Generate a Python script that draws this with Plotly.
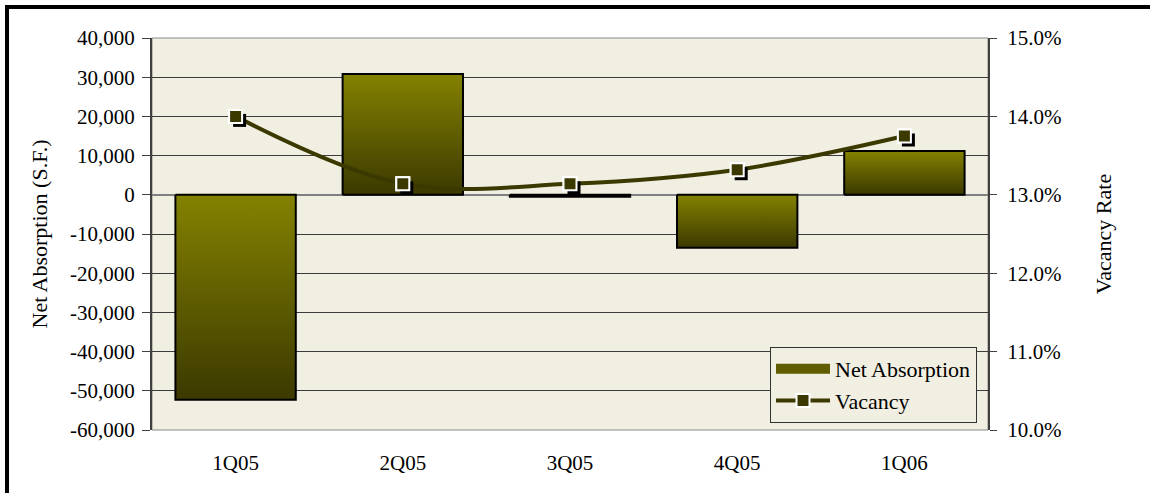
import plotly.graph_objects as go

quarters = ["1Q05", "2Q05", "3Q05", "4Q05", "1Q06"]
net_absorption = [-52300, 30800, -500, -13500, 11200]
vacancy_rate = [0.1400, 0.1314, 0.1314, 0.1332, 0.1375]

left_ticks = list(range(-60000, 40001, 10000))
right_ticks = [0.10, 0.11, 0.12, 0.13, 0.14, 0.15]

# layout constants (pixels)
W, H = 1150, 493
ML, MR, MT, MB = 152, 162, 38, 63
PW, PH = W - ML - MR, H - MT - MB
BAR_W = 0.72
SHADOW_PX = 4

FONT = "Liberation Serif"
BG = "#F0EFE1"
DARK = "#3b3900"
OLIVE = "#848200"

x_idx = list(range(len(quarters)))
fig = go.Figure()

# bars as gradient-filled rectangles
for i, v in enumerate(net_absorption):
    x0, x1 = x_idx[i] - BAR_W / 2, x_idx[i] + BAR_W / 2
    fig.add_trace(go.Scatter(
        x=[x0, x1, x1, x0, x0], y=[0, 0, v, v, 0],
        mode="lines", fill="toself",
        fillgradient=dict(type="vertical", colorscale=[[0, DARK], [1, OLIVE]]),
        line=dict(color="#000000", width=2),
        name="Net Absorption", legendgroup="na", showlegend=False,
        hoverinfo="skip", xaxis="x", yaxis="y",
    ))
# legend swatch for the bars
fig.add_trace(go.Scatter(
    x=[None], y=[None], mode="lines", name="Net Absorption", legendgroup="na",
    line=dict(color="#5f5d00", width=11), xaxis="x", yaxis="y",
))

# vacancy line
fig.add_trace(go.Scatter(
    x=x_idx, y=vacancy_rate, mode="lines+markers", name="Vacancy",
    line=dict(color=DARK, width=4, shape="spline", smoothing=1.0),
    marker=dict(symbol="square", size=13, color=DARK, line=dict(color="white", width=2)),
    xaxis="x", yaxis="y2",
))
# marker shadows
fig.add_trace(go.Scatter(
    x=x_idx, y=vacancy_rate, mode="markers", showlegend=False, hoverinfo="skip",
    marker=dict(symbol="square", size=13, color="#000000"),
    xaxis="x2", yaxis="y3",
))
# markers on top
fig.add_trace(go.Scatter(
    x=x_idx, y=vacancy_rate, mode="markers", showlegend=False,
    marker=dict(symbol="square", size=13, color=DARK, line=dict(color="white", width=2)),
    xaxis="x4", yaxis="y4",
))

xr = [-0.5, len(quarters) - 0.5]
dx = SHADOW_PX * (xr[1] - xr[0]) / PW
yr2 = [0.10, 0.15]
dy = SHADOW_PX * (yr2[1] - yr2[0]) / PH
zero_pos = (0 - left_ticks[0]) / (left_ticks[-1] - left_ticks[0])

tickfont = dict(family=FONT, size=21, color="#000000")
titlefont = dict(family=FONT, size=22, color="#000000")

fig.update_layout(
    width=W, height=H,
    margin=dict(l=ML, r=MR, t=MT, b=MB),
    paper_bgcolor="white", plot_bgcolor=BG,
    showlegend=True,
    legend=dict(x=(770 - ML) / PW, y=(H - MB - 347) / PH, xanchor="left", yanchor="top",
                bgcolor=BG, bordercolor="#333333", borderwidth=1,
                font=dict(family=FONT, size=22, color="#000000"),
                itemwidth=54, tracegroupgap=0),
    xaxis=dict(range=xr, tickvals=x_idx, ticktext=quarters, showgrid=False, zeroline=False,
               showline=False, ticks="", ticklabelstandoff=18, tickfont=tickfont),
    xaxis2=dict(range=[xr[0] - dx, xr[1] - dx], overlaying="x", visible=False),
    xaxis3=dict(range=xr, overlaying="x", anchor="free", position=zero_pos,
                tickvals=[i + 0.5 for i in x_idx[:-1]], ticks="outside", ticklen=6,
                tickcolor="#333333", tickwidth=1.5, showticklabels=False, showgrid=False,
                zeroline=False, showline=False),
    xaxis4=dict(range=xr, overlaying="x", visible=False),
    yaxis=dict(range=[left_ticks[0], left_ticks[-1]], tickvals=left_ticks,
               ticktext=[f"{v:,}" for v in left_ticks],
               showgrid=True, gridcolor="#3c3c3c", gridwidth=1,
               zeroline=True, zerolinecolor="#808080", zerolinewidth=2,
               showline=True, linecolor="#404040", linewidth=2,
               ticks="outside", ticklen=8, tickcolor="#404040", ticklabelstandoff=3,
               tickfont=tickfont,
               title=dict(text="Net Absorption (S.F.)", font=titlefont, standoff=16)),
    yaxis2=dict(range=yr2, tickvals=right_ticks, ticktext=[f"{v*100:.1f}%" for v in right_ticks],
                overlaying="y", side="right",
                showgrid=False, zeroline=False, showline=True, linecolor="#404040", linewidth=2,
                ticks="outside", ticklen=7, tickcolor="#404040", ticklabelstandoff=6,
                tickfont=tickfont,
                title=dict(text="Vacancy Rate", font=titlefont, standoff=35)),
    yaxis3=dict(range=[yr2[0] + dy, yr2[1] + dy], overlaying="y", visible=False),
    yaxis4=dict(range=yr2, overlaying="y", visible=False),
)

# plot-area border and chart frame
fig.add_shape(type="rect", xref="paper", yref="paper", x0=0, x1=1, y0=0, y1=1,
              line=dict(color="#8a8a8a", width=1), layer="below")
fig.add_shape(type="rect", xref="paper", yref="paper",
              x0=(7 - ML) / PW, x1=(W + 10 - ML) / PW,
              y0=(H - MB - (H + 10)) / PH, y1=(H - MB - 7) / PH,
              line=dict(color="#000000", width=4))

fig.write_html("out.html")
